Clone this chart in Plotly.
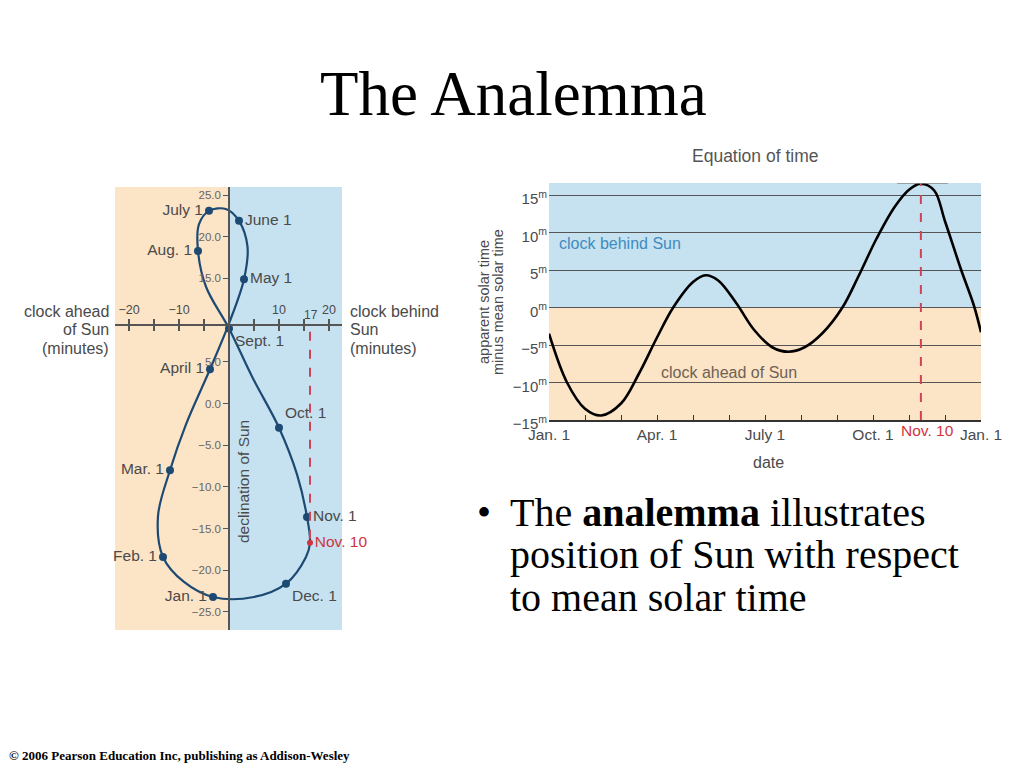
import plotly.graph_objects as go

W, H = 1024, 768
def PX(x): return x / W
def PY(y): return 1 - y / H

# ---------------- Data: analemma (left) ----------------
curve_eot = [-3.2, -9.0, -13.2, -14.2, -11.8, -8.6, -3.8, 0.0, 3.0, 3.7, 2.0, -0.5,
             -4.0, -6.0, -6.2, -4.6, 0.0, 4.8, 10.0, 13.6, 15.6, 16.2, 15.4, 11.4, 5.0, -3.2]
curve_decl = [-23.2, -21.4, -18.4, -13.5, -8.0, -2.5, 4.1, 9.6, 14.9, 18.8, 21.9, 23.3,
              23.1, 21.5, 18.3, 14.0, 9.0, 3.0, -2.9, -8.5, -13.6, -16.7, -18.4, -21.6, -23.2, -23.2]

month_labels = ["Jan. 1", "Feb. 1", "Mar. 1", "April 1", "May 1", "June 1",
                "July 1", "Aug. 1", "Sept. 1", "Oct. 1", "Nov. 1", "Dec. 1"]
month_eot = [-3.2, -13.2, -11.8, -3.8, 3.0, 2.0, -4.0, -6.2, 0.0, 10.0, 15.6, 11.4]
month_decl = [-23.2, -18.4, -8.0, 4.1, 14.9, 21.9, 23.1, 18.3, 9.0, -2.9, -13.6, -21.6]
month_textpos = ["middle left", "middle left", "middle left", "middle left", "middle right",
                 "middle right", "middle left", "middle left", "bottom right", "top right",
                 "middle right", "bottom right"]

nov10_label = "Nov. 10"
nov10_eot = 16.2
nov10_decl = -16.7

left_xtick_vals = [-20, -15, -10, -5, 5, 10, 15, 20]
left_xtick_text = ["\u221220", "", "\u221210", "", "", "10", "", "20"]
left_ytick_vals = [-25, -20, -15, -10, -5, 0, 5, 15, 20, 25]
left_ytick_text = ["\u221225.0", "\u221220.0", "\u221215.0", "\u221210.0", "\u22125.0",
                   "0.0", "5.0", "15.0", "20.0", "25.0"]

# ---------------- Data: equation of time (right) ----------------
eot_month = [0, 0.5, 1.0, 1.45, 2.0, 2.5, 3.0, 3.45, 4.0, 4.35, 4.7, 5.2, 5.7, 6.2,
             6.65, 7.1, 7.6, 8.15, 8.6, 9.1, 9.6, 10.0, 10.33, 10.7, 11.0, 11.45, 11.8, 12.0]
eot_min = [-3.5, -10.0, -13.5, -14.4, -12.8, -8.8, -4.0, 0.0, 3.4, 4.3, 3.6, 0.6, -3.0, -5.3,
           -5.9, -5.3, -3.4, 0.0, 4.2, 9.2, 13.4, 15.7, 16.5, 15.6, 11.5, 5.0, 0.3, -3.3]
right_xtick_vals = list(range(13))
right_xtick_text = ["Jan. 1", "", "", "Apr. 1", "", "", "July 1", "", "", "Oct. 1", "", "", "Jan. 1"]
right_ytick_vals = [-15, -10, -5, 0, 5, 10, 15]
right_ytick_text = ["\u221215<sup>m</sup>", "\u221210<sup>m</sup>", "\u22125<sup>m</sup>",
                    "0<sup>m</sup>", "5<sup>m</sup>", "10<sup>m</sup>", "15<sup>m</sup>"]
nov10_month = 10.33
peak_value = 16.6

# ---------------- Styles ----------------
SANS = "Liberation Sans, Arial, sans-serif"
SERIF = "Liberation Serif, Times New Roman, serif"
GRAY = "#4a4a4a"
ORANGE = "rgb(252,228,198)"
BLUE = "rgb(198,225,239)"
NAVY = "#1d4a73"
RED = "#d0343f"
DASH_RED = "#cc4455"

L_XR = [-22.8, 22.6]
L_YR = [-27.16, 25.96]
R_XR = [0, 12]
R_YR = [-15, peak_value]

fig = go.Figure()

fig.add_trace(go.Scatter(x=curve_eot, y=curve_decl, mode="lines",
                         line=dict(color=NAVY, width=2.2, shape="spline", smoothing=1.0),
                         xaxis="x", yaxis="y", hoverinfo="skip"))
fig.add_trace(go.Scatter(x=month_eot, y=month_decl, mode="markers+text",
                         marker=dict(color=NAVY, size=8),
                         text=month_labels, textposition=month_textpos, cliponaxis=False,
                         textfont=dict(family=SANS, size=15.5, color=GRAY),
                         xaxis="x", yaxis="y"))
fig.add_trace(go.Scatter(x=[nov10_eot], y=[nov10_decl], mode="markers+text",
                         marker=dict(color=RED, size=6), cliponaxis=False,
                         text=[nov10_label], textposition="middle right",
                         textfont=dict(family=SANS, size=15.5, color=RED),
                         xaxis="x", yaxis="y"))
fig.add_trace(go.Scatter(x=[0], y=[0], mode="markers", marker=dict(opacity=0),
                         xaxis="x3", yaxis="y", hoverinfo="skip"))

fig.add_trace(go.Scatter(x=eot_month, y=eot_min, mode="lines",
                         line=dict(color="black", width=2.6, shape="spline", smoothing=1.0),
                         xaxis="x2", yaxis="y2", hoverinfo="skip"))

shapes = [
    dict(type="rect", xref="x", yref="y", x0=L_XR[0], x1=0, y0=L_YR[0], y1=L_YR[1],
         fillcolor=ORANGE, line=dict(width=0), layer="below"),
    dict(type="rect", xref="x", yref="y", x0=0, x1=L_XR[1], y0=L_YR[0], y1=L_YR[1],
         fillcolor=BLUE, line=dict(width=0), layer="below"),
    dict(type="line", xref="x", yref="y", x0=nov10_eot, x1=nov10_eot, y0=8.6, y1=nov10_decl,
         line=dict(color=DASH_RED, width=2, dash="dash")),
    dict(type="rect", xref="x2", yref="y2", x0=R_XR[0], x1=R_XR[1], y0=0, y1=R_YR[1],
         fillcolor=BLUE, line=dict(width=0), layer="below"),
    dict(type="rect", xref="x2", yref="y2", x0=R_XR[0], x1=R_XR[1], y0=R_YR[0], y1=0,
         fillcolor=ORANGE, line=dict(width=0), layer="below"),
    dict(type="line", xref="x2", yref="y2", x0=nov10_month, x1=nov10_month, y0=R_YR[0], y1=peak_value,
         line=dict(color=DASH_RED, width=2, dash="dash")),
    dict(type="line", xref="x2", yref="y2", x0=9.67, x1=11.08, y0=peak_value, y1=peak_value,
         line=dict(color="#8a8a8a", width=1.5)),
]

ann = []
def A(text, x, y, size, color=GRAY, family=SANS, xanchor="center", yanchor="middle",
      xref="paper", yref="paper", angle=0, align="center"):
    ann.append(dict(text=text, x=x, y=y, xref=xref, yref=yref, showarrow=False,
                    xanchor=xanchor, yanchor=yanchor, textangle=angle, align=align,
                    font=dict(family=family, size=size, color=color)))

# page text
A("The Analemma", PX(513), PY(94), 63, color="black", family=SERIF)
A("\u2022", PX(484), PY(512), 40, color="black", family=SERIF)
A("The <b>analemma</b> illustrates", PX(508), PY(512), 40, color="black", family=SERIF, xanchor="left")
A("position of Sun with respect", PX(508), PY(554), 40, color="black", family=SERIF, xanchor="left")
A("to mean solar time", PX(508), PY(597), 40, color="black", family=SERIF, xanchor="left")
A("<b>\u00a9 2006 Pearson Education Inc, publishing as Addison-Wesley</b>", PX(7), PY(755), 13,
  color="black", family=SERIF, xanchor="left")

# left chart text
A("clock ahead", PX(111), PY(311), 16, xanchor="right")
A("of Sun", PX(111), PY(329), 16, xanchor="right")
A("(minutes)", PX(111), PY(348), 16, xanchor="right")
A("clock behind", PX(348), PY(311), 16, xanchor="left")
A("Sun", PX(348), PY(329), 16, xanchor="left")
A("(minutes)", PX(348), PY(348), 16, xanchor="left")
A("declination of Sun", PX(243), PY(482), 15.5, angle=-90)
A("17", 16.4, 9.5, 12, xref="x", yref="y", yanchor="bottom")

# right chart text
A("Equation of time", PX(755), PY(156), 17.5, color="#555555")
A("apparent solar time", PX(484), PY(302), 14.5, angle=-90)
A("minus mean solar time", PX(498), PY(302), 14.5, angle=-90)
A("date", PX(768), PY(462), 16)
A("Nov. 10", 10.5, R_YR[0], 15.5, color=RED, xref="x2", yref="y2", yanchor="top")
A("clock behind Sun", 0.22, 8.5, 16, color="#3f8cc0", xref="x2", yref="y2", xanchor="left")
A("clock ahead of Sun", 3.05, -8.7, 16, color="#6e6255", xref="x2", yref="y2", xanchor="left")
A("17<sup>m</sup>", 9.62, peak_value + 0.2, 14, xref="x2", yref="y2", xanchor="right")

fig.update_layout(
    width=W, height=H, autosize=False,
    margin=dict(l=0, r=0, t=0, b=0, pad=0, autoexpand=False),
    paper_bgcolor="white", plot_bgcolor="rgba(0,0,0,0)",
    showlegend=False,
    shapes=shapes, annotations=ann,
    xaxis=dict(domain=[PX(115), PX(342)], range=L_XR, anchor="free", position=PY(325),
               side="top", showline=True, linecolor="#555555", linewidth=1.5,
               ticks="outside", ticklen=5, tickwidth=1.5, tickcolor="#555555",
               tickvals=left_xtick_vals, ticktext=left_xtick_text,
               tickfont=dict(family=SANS, size=12.5, color=GRAY),
               showgrid=False, zeroline=False, automargin=False),
    xaxis3=dict(overlaying="x", matches="x", anchor="free", position=PY(325), side="bottom",
                showline=False, ticks="outside", ticklen=5, tickwidth=1.5, tickcolor="#555555",
                tickvals=left_xtick_vals, showticklabels=False, showgrid=False, zeroline=False,
                automargin=False),
    yaxis=dict(domain=[PY(630), PY(187)], range=L_YR, anchor="free", position=PX(229),
               side="left", showline=True, linecolor="#555555", linewidth=1.5,
               ticks="outside", ticklen=5, tickwidth=1.2, tickcolor="#555555",
               tickvals=left_ytick_vals, ticktext=left_ytick_text,
               tickfont=dict(family=SANS, size=11.5, color="#666666"),
               showgrid=False, zeroline=False, automargin=False),
    xaxis2=dict(domain=[PX(549), PX(981)], range=R_XR, anchor="y2",
                showline=True, linecolor="#333333", linewidth=1.5,
                ticks="inside", ticklen=5, tickwidth=1.2, tickcolor="#333333",
                tickvals=right_xtick_vals, ticktext=right_xtick_text,
                tickfont=dict(family=SANS, size=15.5, color=GRAY),
                showgrid=False, zeroline=False, automargin=False),
    yaxis2=dict(domain=[PY(420), PY(183)], range=R_YR, anchor="x2",
                showline=False, ticks="", showgrid=True, gridcolor="#555555", gridwidth=1,
                tickvals=right_ytick_vals, ticktext=right_ytick_text,
                tickfont=dict(family=SANS, size=15, color=GRAY),
                ticklabelshift=4, ticklabelstandoff=1,
                zeroline=False, automargin=False),
)

fig.write_html("out.html", config={"displayModeBar": False},
               post_script="document.body.style.margin='0';document.body.style.overflow='hidden';")
